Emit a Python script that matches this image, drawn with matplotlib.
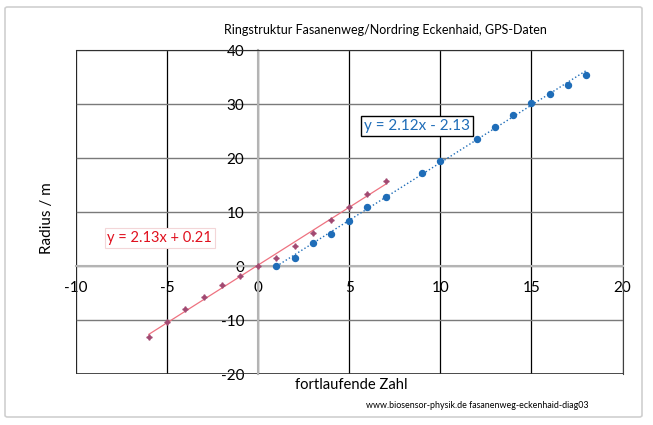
import numpy as np
import matplotlib
matplotlib.use("Agg")
import matplotlib.pyplot as plt
from matplotlib.patches import FancyBboxPatch

plt.rcParams['font.family'] = ['Lato', 'DejaVu Sans']
plt.rcParams['axes.unicode_minus'] = False

# data
blue_x = [1, 2, 3, 4, 5, 6, 7, 9, 10, 12, 13, 14, 15, 16, 17, 18]
blue_y = [0.0, 1.5, 4.2, 6.0, 8.3, 11.0, 12.8, 17.3, 19.5, 23.6, 25.8, 27.9, 30.2, 31.9, 33.6, 35.4]
pink_x = [-6, -5, -4, -3, -2, -1, 0, 1, 2, 3, 4, 5, 6, 7]
pink_y = [-13.1, -10.3, -8.0, -5.7, -3.6, -1.8, 0.0, 1.5, 3.7, 6.1, 8.6, 10.9, 13.4, 15.8]
x_ticks = [-10, -5, 0, 5, 10, 15, 20]
y_ticks = [-20, -10, 0, 10, 20, 30, 40]
blue_label = "y = 2.12x - 2.13"
pink_label = "y = 2.13x + 0.21"

blue = '#1f6db8'
pink = '#a24a72'
pink_line = '#ee7280'

fig = plt.figure(figsize=(6.53, 4.25), dpi=100)
# outer chart border
fig.patches.append(FancyBboxPatch((5/653, 8/425), 637/653, 410/425,
                                  boxstyle="round,pad=0,rounding_size=0.004",
                                  transform=fig.transFigure, fill=False,
                                  edgecolor='#d0d0d0', linewidth=1.2))

ax = fig.add_axes([76/653, 51/425, 546.5/653, 324/425])
ax.set_xlim(-10, 20)
ax.set_ylim(-20, 40)
ax.set_xticks(x_ticks)
ax.set_yticks(y_ticks)
ax.tick_params(length=0, labelsize=11, colors='black')
ax.tick_params(axis='y', pad=10)
ax.tick_params(axis='x', pad=11)

ax.set_axisbelow(True)
ax.xaxis.grid(True, color='black', linewidth=0.9)
ax.yaxis.grid(True, color='#7a7a7a', linewidth=1.0)

# axes cross at zero, border made by the other spines
ax.spines['left'].set_position(('data', 0))
ax.spines['bottom'].set_position(('data', 0))
ax.spines['left'].set_color('#b4b4b4')
ax.spines['bottom'].set_color('#b4b4b4')
ax.spines['left'].set_linewidth(1.5)
ax.spines['bottom'].set_linewidth(1.5)
ax.spines['top'].set_color('#303030')
ax.spines['right'].set_color('#404040')
ax.axvline(-10, color='#303030', linewidth=1.2)
ax.axhline(-20, color='#303030', linewidth=1.2)

# trend lines
bx = np.array(blue_x)
px = np.array(pink_x)
bfit = np.polyfit(bx, blue_y, 1)
pfit = np.polyfit(px, pink_y, 1)
ax.plot([bx.min(), bx.max()], np.polyval(bfit, [bx.min(), bx.max()]),
        linestyle=':', color=blue, linewidth=1.0, zorder=3)
ax.plot([px.min(), px.max()], np.polyval(pfit, [px.min(), px.max()]),
        color=pink_line, linewidth=0.9, zorder=3)

ax.plot(blue_x, blue_y, 'o', color=blue, markersize=4.3, zorder=4)
ax.plot(pink_x, pink_y, marker=(4, 1, 0), linestyle='none', color=pink,
        markersize=4, zorder=4)

ax.text(8.73, 26.0, blue_label, color=blue, fontsize=11, ha='center', va='center',
        bbox=dict(boxstyle='square,pad=0.2', facecolor='white', edgecolor='black',
                  linewidth=1.0), zorder=5)
ax.text(-5.4, 5.2, pink_label, color='#e0101e', fontsize=10.5, ha='center', va='center',
        bbox=dict(boxstyle='square,pad=0.2', facecolor='white', edgecolor='#f3d6d8',
                  linewidth=0.8), zorder=5)

fig.text(385/653, 1 - 30/425, "Ringstruktur Fasanenweg/Nordring Eckenhaid, GPS-Daten",
         ha='center', va='center', fontsize=9.0)
fig.text(47/653, 1 - 218/425, "Radius / m", rotation=90, ha='center', va='center',
         fontsize=11)
fig.text(351/653, 1 - 385/425, "fortlaufende Zahl", ha='center', va='center', fontsize=10.6)
fig.text(589/653, 1 - 405/425, "www.biosensor-physik.de fasanenweg-eckenhaid-diag03",
         ha='right', va='center', fontsize=6.4)

fig.savefig("out.png", dpi=100)
